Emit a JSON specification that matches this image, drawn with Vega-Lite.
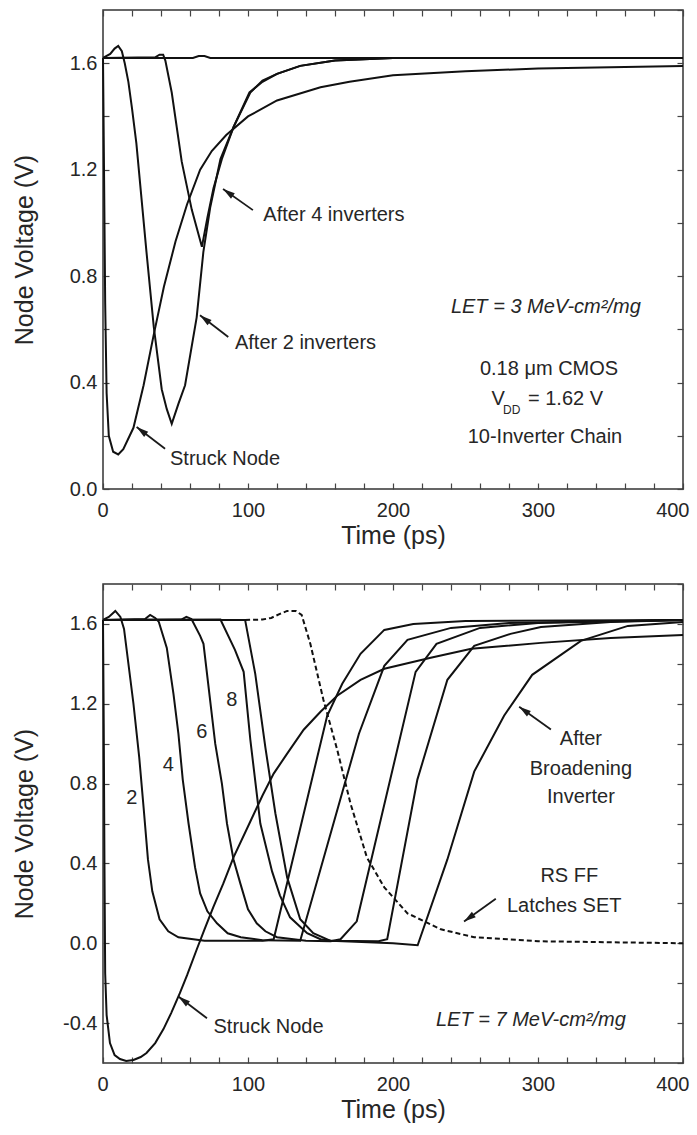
{
"$schema":"https://vega.github.io/schema/vega-lite/v6.json",
"padding":{"left":11,"top":8,"right":0,"bottom":0},
"spacing":33,
"config":{
 "view":{"stroke":"#333","strokeWidth":1.5},
 "font":"Liberation Sans",
 "axis":{"grid":false,"domain":false,"tickColor":"#444","tickWidth":1.2,"tickSize":-6,"labelFont":"Liberation Sans","labelFontSize":20,"labelColor":"#262626","titleFont":"Liberation Sans","titleFontSize":25,"titleFontWeight":"normal","titleColor":"#262626","labelOverlap":false,"labelFlush":false},
 "text":{"font":"Liberation Sans","fontSize":20,"color":"#262626"}
},
"datasets":{
 "top":[
  {"s":"S","t":0,"v":1.62},{"s":"S","t":0.7,"v":1.2},{"s":"S","t":1.5,"v":0.7},{"s":"S","t":2.5,"v":0.36},{"s":"S","t":4,"v":0.2},{"s":"S","t":7,"v":0.14},{"s":"S","t":10.5,"v":0.13},{"s":"S","t":14,"v":0.15},{"s":"S","t":21,"v":0.23},{"s":"S","t":28,"v":0.39},{"s":"S","t":35,"v":0.58},{"s":"S","t":42,"v":0.76},{"s":"S","t":50,"v":0.93},{"s":"S","t":58,"v":1.07},{"s":"S","t":67,"v":1.2},{"s":"S","t":75,"v":1.27},{"s":"S","t":85,"v":1.33},{"s":"S","t":100,"v":1.4},{"s":"S","t":120,"v":1.46},{"s":"S","t":150,"v":1.51},{"s":"S","t":170,"v":1.53},{"s":"S","t":200,"v":1.555},{"s":"S","t":250,"v":1.57},{"s":"S","t":300,"v":1.58},{"s":"S","t":350,"v":1.585},{"s":"S","t":400,"v":1.59},
  {"s":"2","t":0,"v":1.62},{"s":"2","t":5,"v":1.635},{"s":"2","t":8,"v":1.655},{"s":"2","t":10.5,"v":1.665},{"s":"2","t":13,"v":1.645},{"s":"2","t":15,"v":1.6},{"s":"2","t":17.5,"v":1.53},{"s":"2","t":20,"v":1.43},{"s":"2","t":23,"v":1.3},{"s":"2","t":30,"v":0.89},{"s":"2","t":35,"v":0.61},{"s":"2","t":40.5,"v":0.375},{"s":"2","t":44,"v":0.3},{"s":"2","t":47.4,"v":0.245},{"s":"2","t":52,"v":0.32},{"s":"2","t":56.6,"v":0.39},{"s":"2","t":64.6,"v":0.645},{"s":"2","t":69.2,"v":0.89},{"s":"2","t":74,"v":1.06},{"s":"2","t":81,"v":1.24},{"s":"2","t":90,"v":1.36},{"s":"2","t":101,"v":1.49},{"s":"2","t":110,"v":1.53},{"s":"2","t":120,"v":1.56},{"s":"2","t":136,"v":1.59},{"s":"2","t":160,"v":1.61},{"s":"2","t":200,"v":1.62},{"s":"2","t":400,"v":1.62},
  {"s":"4","t":0,"v":1.62},{"s":"4","t":36,"v":1.622},{"s":"4","t":39,"v":1.632},{"s":"4","t":41.5,"v":1.632},{"s":"4","t":43,"v":1.61},{"s":"4","t":47.4,"v":1.49},{"s":"4","t":54.3,"v":1.23},{"s":"4","t":61.2,"v":1.05},{"s":"4","t":68.2,"v":0.91},{"s":"4","t":72,"v":1.02},{"s":"4","t":76.2,"v":1.13},{"s":"4","t":82,"v":1.24},{"s":"4","t":90,"v":1.36},{"s":"4","t":101.6,"v":1.49},{"s":"4","t":110,"v":1.535},{"s":"4","t":120,"v":1.56},{"s":"4","t":136,"v":1.59},{"s":"4","t":160,"v":1.61},{"s":"4","t":200,"v":1.62},{"s":"4","t":400,"v":1.62},
  {"s":"6","t":0,"v":1.62},{"s":"6","t":62,"v":1.62},{"s":"6","t":66,"v":1.627},{"s":"6","t":70,"v":1.627},{"s":"6","t":74,"v":1.62},{"s":"6","t":400,"v":1.62}
 ],
 "bottom":[
  {"s":"S","t":0,"v":1.62},{"s":"S","t":0.5,"v":1.1},{"s":"S","t":1,"v":0.4},{"s":"S","t":1.5,"v":-0.15},{"s":"S","t":2.5,"v":-0.36},{"s":"S","t":4.8,"v":-0.5},{"s":"S","t":8,"v":-0.56},{"s":"S","t":11.7,"v":-0.58},{"s":"S","t":16,"v":-0.59},{"s":"S","t":21,"v":-0.585},{"s":"S","t":26,"v":-0.57},{"s":"S","t":30,"v":-0.55},{"s":"S","t":36,"v":-0.5},{"s":"S","t":41.7,"v":-0.43},{"s":"S","t":47,"v":-0.35},{"s":"S","t":53,"v":-0.25},{"s":"S","t":58,"v":-0.16},{"s":"S","t":64.7,"v":-0.03},{"s":"S","t":70,"v":0.07},{"s":"S","t":76,"v":0.18},{"s":"S","t":83,"v":0.3},{"s":"S","t":90,"v":0.43},{"s":"S","t":101.6,"v":0.61},{"s":"S","t":110,"v":0.74},{"s":"S","t":117.7,"v":0.85},{"s":"S","t":127,"v":0.95},{"s":"S","t":138.4,"v":1.07},{"s":"S","t":150,"v":1.16},{"s":"S","t":161.5,"v":1.24},{"s":"S","t":177.6,"v":1.32},{"s":"S","t":194,"v":1.375},{"s":"S","t":226,"v":1.43},{"s":"S","t":254,"v":1.475},{"s":"S","t":302,"v":1.505},{"s":"S","t":350,"v":1.53},{"s":"S","t":400,"v":1.545},
  {"s":"2","t":0,"v":1.62},{"s":"2","t":4,"v":1.635},{"s":"2","t":8.5,"v":1.665},{"s":"2","t":12,"v":1.635},{"s":"2","t":14.5,"v":1.575},{"s":"2","t":21,"v":1.2},{"s":"2","t":25,"v":0.93},{"s":"2","t":28,"v":0.68},{"s":"2","t":31,"v":0.42},{"s":"2","t":34,"v":0.26},{"s":"2","t":39,"v":0.12},{"s":"2","t":45,"v":0.06},{"s":"2","t":52,"v":0.03},{"s":"2","t":70,"v":0.012},{"s":"2","t":110,"v":0.012},{"s":"2","t":117.7,"v":0.02},{"s":"2","t":154.6,"v":1.14},{"s":"2","t":165,"v":1.3},{"s":"2","t":177.6,"v":1.45},{"s":"2","t":194,"v":1.57},{"s":"2","t":214,"v":1.6},{"s":"2","t":250,"v":1.615},{"s":"2","t":400,"v":1.62},
  {"s":"4","t":0,"v":1.62},{"s":"4","t":29,"v":1.625},{"s":"4","t":32.5,"v":1.645},{"s":"4","t":36,"v":1.63},{"s":"4","t":38.5,"v":1.61},{"s":"4","t":44,"v":1.48},{"s":"4","t":48.6,"v":1.25},{"s":"4","t":52,"v":1.05},{"s":"4","t":55,"v":0.82},{"s":"4","t":59,"v":0.6},{"s":"4","t":63.5,"v":0.38},{"s":"4","t":67,"v":0.25},{"s":"4","t":72,"v":0.16},{"s":"4","t":78.6,"v":0.1},{"s":"4","t":86,"v":0.05},{"s":"4","t":95,"v":0.03},{"s":"4","t":110,"v":0.015},{"s":"4","t":136,"v":0.012},{"s":"4","t":176.5,"v":1.05},{"s":"4","t":194,"v":1.39},{"s":"4","t":210,"v":1.52},{"s":"4","t":240,"v":1.58},{"s":"4","t":280,"v":1.605},{"s":"4","t":400,"v":1.62},
  {"s":"6","t":0,"v":1.62},{"s":"6","t":54,"v":1.622},{"s":"6","t":57.5,"v":1.635},{"s":"6","t":61,"v":1.625},{"s":"6","t":67,"v":1.54},{"s":"6","t":69.3,"v":1.5},{"s":"6","t":77.4,"v":1.0},{"s":"6","t":82,"v":0.8},{"s":"6","t":85.5,"v":0.6},{"s":"6","t":90,"v":0.42},{"s":"6","t":94.7,"v":0.3},{"s":"6","t":100,"v":0.17},{"s":"6","t":106,"v":0.1},{"s":"6","t":112,"v":0.06},{"s":"6","t":120,"v":0.03},{"s":"6","t":140,"v":0.012},{"s":"6","t":157,"v":0.01},{"s":"6","t":163.8,"v":0.02},{"s":"6","t":175,"v":0.11},{"s":"6","t":215.6,"v":1.36},{"s":"6","t":230,"v":1.5},{"s":"6","t":260,"v":1.58},{"s":"6","t":300,"v":1.605},{"s":"6","t":400,"v":1.62},
  {"s":"8","t":0,"v":1.62},{"s":"8","t":81,"v":1.622},{"s":"8","t":91,"v":1.47},{"s":"8","t":97,"v":1.36},{"s":"8","t":101.6,"v":1.02},{"s":"8","t":108.5,"v":0.6},{"s":"8","t":116.6,"v":0.36},{"s":"8","t":122,"v":0.24},{"s":"8","t":129,"v":0.13},{"s":"8","t":140.8,"v":0.05},{"s":"8","t":150,"v":0.02},{"s":"8","t":157,"v":0.012},{"s":"8","t":190,"v":0.01},{"s":"8","t":196,"v":0.02},{"s":"8","t":216.8,"v":0.82},{"s":"8","t":237.5,"v":1.32},{"s":"8","t":256,"v":1.49},{"s":"8","t":281,"v":1.55},{"s":"8","t":302,"v":1.585},{"s":"8","t":350,"v":1.61},{"s":"8","t":400,"v":1.62},
  {"s":"B","t":0,"v":1.62},{"s":"B","t":98,"v":1.62},{"s":"B","t":105,"v":1.35},{"s":"B","t":112,"v":0.98},{"s":"B","t":118.9,"v":0.65},{"s":"B","t":127,"v":0.33},{"s":"B","t":136,"v":0.12},{"s":"B","t":145,"v":0.05},{"s":"B","t":157,"v":0.012},{"s":"B","t":200,"v":0.0},{"s":"B","t":217,"v":-0.01},{"s":"B","t":237.5,"v":0.42},{"s":"B","t":256,"v":0.86},{"s":"B","t":276.6,"v":1.14},{"s":"B","t":296,"v":1.345},{"s":"B","t":329.6,"v":1.515},{"s":"B","t":362,"v":1.59},{"s":"B","t":400,"v":1.61},
  {"s":"RS","t":98,"v":1.62},{"s":"RS","t":110,"v":1.622},{"s":"RS","t":116,"v":1.63},{"s":"RS","t":122,"v":1.65},{"s":"RS","t":127,"v":1.665},{"s":"RS","t":133,"v":1.665},{"s":"RS","t":137,"v":1.645},{"s":"RS","t":143,"v":1.5},{"s":"RS","t":152,"v":1.22},{"s":"RS","t":161.5,"v":0.97},{"s":"RS","t":170.7,"v":0.7},{"s":"RS","t":182,"v":0.43},{"s":"RS","t":194,"v":0.28},{"s":"RS","t":210,"v":0.15},{"s":"RS","t":233,"v":0.07},{"s":"RS","t":256,"v":0.03},{"s":"RS","t":300,"v":0.01},{"s":"RS","t":400,"v":0.0}
 ],
 "topArrows":[
  {"t":82.8,"v":1.127,"t2":103.4,"v2":1.048,"ang":305},
  {"t":66.9,"v":0.653,"t2":86.4,"v2":0.571,"ang":307.5},
  {"t":23.2,"v":0.233,"t2":42.8,"v2":0.151,"ang":307.5}
 ],
 "botArrows":[
  {"t":52.0,"v":-0.267,"t2":71.7,"v2":-0.376,"ang":307.4},
  {"t":287.0,"v":1.185,"t2":308.9,"v2":1.071,"ang":305.7},
  {"t":249.0,"v":0.109,"t2":270.9,"v2":0.223,"ang":234.3}
 ]
},
"vconcat":[
 {"width":580,"height":479,
  "resolve":{"axis":{"x":"independent","y":"independent"}},
  "layer":[
   {"data":{"name":"top"},"mark":{"type":"line","color":"#111","strokeWidth":2},
    "encoding":{
     "x":{"field":"t","type":"quantitative","scale":{"domain":[0,400],"nice":false,"zero":false},
      "axis":{"orient":"bottom","values":[0,20,40,60,80,100,120,140,160,180,200,220,240,260,280,300,320,340,360,380,400],"labelExpr":"datum.value % 100 === 0 ? datum.label : ''","labelFlush":true,"labelFlushOffset":6,"labelPadding":17,"title":"Time (ps)","titlePadding":3}},
     "y":{"field":"v","type":"quantitative","scale":{"domain":[0,1.8],"nice":false,"zero":false},
      "axis":{"orient":"left","values":[0,0.2,0.4,0.6,0.8,1,1.2,1.4,1.6],"labelExpr":"round(datum.value*10) % 4 === 0 ? (datum.value < 0 ? '-' : '') + format(abs(datum.value), '.1f') : ''","labelPadding":12,"title":"Node Voltage (V)","titleX":-71,"titleBaseline":"alphabetic"}},
     "detail":{"field":"s"}}},
   {"data":{"name":"topArrows"},"mark":{"type":"rule","color":"#1a1a1a","strokeWidth":1.8},
    "encoding":{
     "x":{"field":"t","type":"quantitative","scale":{"domain":[0,400],"nice":false,"zero":false},"axis":null},
     "y":{"field":"v","type":"quantitative","scale":{"domain":[0,1.8],"nice":false,"zero":false},"axis":null},
     "x2":{"field":"t2"},"y2":{"field":"v2"}}},
   {"data":{"name":"topArrows"},"mark":{"type":"point","shape":"M0,0L-0.55,2L0.55,2Z","filled":true,"size":144,"color":"#1a1a1a","opacity":1,"strokeWidth":0},
    "encoding":{
     "x":{"field":"t","type":"quantitative","scale":{"domain":[0,400],"nice":false,"zero":false},"axis":null},
     "y":{"field":"v","type":"quantitative","scale":{"domain":[0,1.8],"nice":false,"zero":false},"axis":null},
     "angle":{"field":"ang","type":"quantitative","scale":null}}},
   {"data":{"values":[{"t":110.6,"v":1.03,"txt":"After 4 inverters"},{"t":91,"v":0.549,"txt":"After 2 inverters"},{"t":46.2,"v":0.114,"txt":"Struck Node"}]},
    "mark":{"type":"text","align":"left","baseline":"middle"},
    "encoding":{
     "x":{"field":"t","type":"quantitative","scale":{"domain":[0,400],"nice":false,"zero":false},
      "axis":{"orient":"top","values":[0,20,40,60,80,100,120,140,160,180,200,220,240,260,280,300,320,340,360,380,400],"labels":false,"title":null,"minExtent":0,"maxExtent":0}},
     "y":{"field":"v","type":"quantitative","scale":{"domain":[0,1.8],"nice":false,"zero":false},
      "axis":{"orient":"right","values":[0,0.2,0.4,0.6,0.8,1,1.2,1.4,1.6,1.8],"labels":false,"title":null,"minExtent":0,"maxExtent":0}},
     "text":{"field":"txt"}}},
   {"data":{"values":[{"t":307.6,"v":0.452,"txt":"0.18  μm CMOS"},{"t":304.8,"v":0.195,"txt":"10-Inverter Chain"}]},
    "mark":{"type":"text","align":"center","baseline":"middle"},
    "encoding":{
     "x":{"field":"t","type":"quantitative","scale":{"domain":[0,400],"nice":false,"zero":false},"axis":null},
     "y":{"field":"v","type":"quantitative","scale":{"domain":[0,1.8],"nice":false,"zero":false},"axis":null},
     "text":{"field":"txt"}}},
   {"data":{"values":[{"t":305.4,"v":0.684,"txt":"LET = 3 MeV-cm²/mg"}]},
    "mark":{"type":"text","align":"center","baseline":"middle","fontStyle":"italic"},
    "encoding":{
     "x":{"field":"t","type":"quantitative","scale":{"domain":[0,400],"nice":false,"zero":false},"axis":null},
     "y":{"field":"v","type":"quantitative","scale":{"domain":[0,1.8],"nice":false,"zero":false},"axis":null},
     "text":{"field":"txt"}}},
   {"data":{"values":[{"t":268,"v":0.339,"txt":"V"},{"t":293.1,"v":0.339,"txt":"= 1.62 V"}]},
    "mark":{"type":"text","align":"left","baseline":"middle"},
    "encoding":{
     "x":{"field":"t","type":"quantitative","scale":{"domain":[0,400],"nice":false,"zero":false},"axis":null},
     "y":{"field":"v","type":"quantitative","scale":{"domain":[0,1.8],"nice":false,"zero":false},"axis":null},
     "text":{"field":"txt"}}},
   {"data":{"values":[{"t":275.9,"v":0.296,"txt":"DD"}]},
    "mark":{"type":"text","align":"left","baseline":"middle","fontSize":12},
    "encoding":{
     "x":{"field":"t","type":"quantitative","scale":{"domain":[0,400],"nice":false,"zero":false},"axis":null},
     "y":{"field":"v","type":"quantitative","scale":{"domain":[0,1.8],"nice":false,"zero":false},"axis":null},
     "text":{"field":"txt"}}}
  ]},
 {"width":580,"height":479,
  "resolve":{"axis":{"x":"independent","y":"independent"}},
  "layer":[
   {"data":{"name":"bottom"},"transform":[{"filter":"datum.s !== 'RS'"}],"mark":{"type":"line","color":"#111","strokeWidth":2},
    "encoding":{
     "x":{"field":"t","type":"quantitative","scale":{"domain":[0,400],"nice":false,"zero":false},
      "axis":{"orient":"bottom","values":[0,20,40,60,80,100,120,140,160,180,200,220,240,260,280,300,320,340,360,380,400],"labelExpr":"datum.value % 100 === 0 ? datum.label : ''","labelFlush":true,"labelFlushOffset":6,"labelPadding":17,"title":"Time (ps)","titlePadding":3}},
     "y":{"field":"v","type":"quantitative","scale":{"domain":[-0.6,1.8],"nice":false,"zero":false},
      "axis":{"orient":"left","values":[-0.4,-0.2,0,0.2,0.4,0.6,0.8,1,1.2,1.4,1.6],"labelExpr":"round(datum.value*10) % 4 === 0 ? (datum.value < 0 ? '-' : '') + format(abs(datum.value), '.1f') : ''","labelPadding":12,"title":"Node Voltage (V)","titleX":-71,"titleBaseline":"alphabetic"}},
     "detail":{"field":"s"}}},
   {"data":{"name":"bottom"},"transform":[{"filter":"datum.s === 'RS'"}],"mark":{"type":"line","color":"#111","strokeWidth":2,"strokeDash":[5,3]},
    "encoding":{
     "x":{"field":"t","type":"quantitative","scale":{"domain":[0,400],"nice":false,"zero":false},"axis":null},
     "y":{"field":"v","type":"quantitative","scale":{"domain":[-0.6,1.8],"nice":false,"zero":false},"axis":null}}},
   {"data":{"name":"botArrows"},"mark":{"type":"rule","color":"#1a1a1a","strokeWidth":1.8},
    "encoding":{
     "x":{"field":"t","type":"quantitative","scale":{"domain":[0,400],"nice":false,"zero":false},"axis":null},
     "y":{"field":"v","type":"quantitative","scale":{"domain":[-0.6,1.8],"nice":false,"zero":false},"axis":null},
     "x2":{"field":"t2"},"y2":{"field":"v2"}}},
   {"data":{"name":"botArrows"},"mark":{"type":"point","shape":"M0,0L-0.55,2L0.55,2Z","filled":true,"size":144,"color":"#1a1a1a","opacity":1,"strokeWidth":0},
    "encoding":{
     "x":{"field":"t","type":"quantitative","scale":{"domain":[0,400],"nice":false,"zero":false},"axis":null},
     "y":{"field":"v","type":"quantitative","scale":{"domain":[-0.6,1.8],"nice":false,"zero":false},"axis":null},
     "angle":{"field":"ang","type":"quantitative","scale":null}}},
   {"data":{"values":[{"t":76.2,"v":-0.42,"txt":"Struck Node"}]},
    "mark":{"type":"text","align":"left","baseline":"middle"},
    "encoding":{
     "x":{"field":"t","type":"quantitative","scale":{"domain":[0,400],"nice":false,"zero":false},
      "axis":{"orient":"top","values":[0,20,40,60,80,100,120,140,160,180,200,220,240,260,280,300,320,340,360,380,400],"labels":false,"title":null,"minExtent":0,"maxExtent":0}},
     "y":{"field":"v","type":"quantitative","scale":{"domain":[-0.6,1.8],"nice":false,"zero":false},
      "axis":{"orient":"right","values":[-0.6,-0.4,-0.2,0,0.2,0.4,0.6,0.8,1,1.2,1.4,1.6,1.8],"labels":false,"title":null,"minExtent":0,"maxExtent":0}},
     "text":{"field":"txt"}}},
   {"data":{"values":[{"t":19.8,"v":0.726,"txt":"2"},{"t":45.1,"v":0.893,"txt":"4"},{"t":68.2,"v":1.06,"txt":"6"},{"t":88.9,"v":1.219,"txt":"8"},{"t":329.6,"v":1.023,"txt":"After"},{"t":329.6,"v":0.871,"txt":"Broadening"},{"t":329.6,"v":0.731,"txt":"Inverter"},{"t":321.6,"v":0.337,"txt":"RS FF"},{"t":318.1,"v":0.185,"txt":"Latches SET"}]},
    "mark":{"type":"text","align":"center","baseline":"middle"},
    "encoding":{
     "x":{"field":"t","type":"quantitative","scale":{"domain":[0,400],"nice":false,"zero":false},"axis":null},
     "y":{"field":"v","type":"quantitative","scale":{"domain":[-0.6,1.8],"nice":false,"zero":false},"axis":null},
     "text":{"field":"txt"}}},
   {"data":{"values":[{"t":295.1,"v":-0.386,"txt":"LET = 7 MeV-cm²/mg"}]},
    "mark":{"type":"text","align":"center","baseline":"middle","fontStyle":"italic"},
    "encoding":{
     "x":{"field":"t","type":"quantitative","scale":{"domain":[0,400],"nice":false,"zero":false},"axis":null},
     "y":{"field":"v","type":"quantitative","scale":{"domain":[-0.6,1.8],"nice":false,"zero":false},"axis":null},
     "text":{"field":"txt"}}}
  ]}
]
}
